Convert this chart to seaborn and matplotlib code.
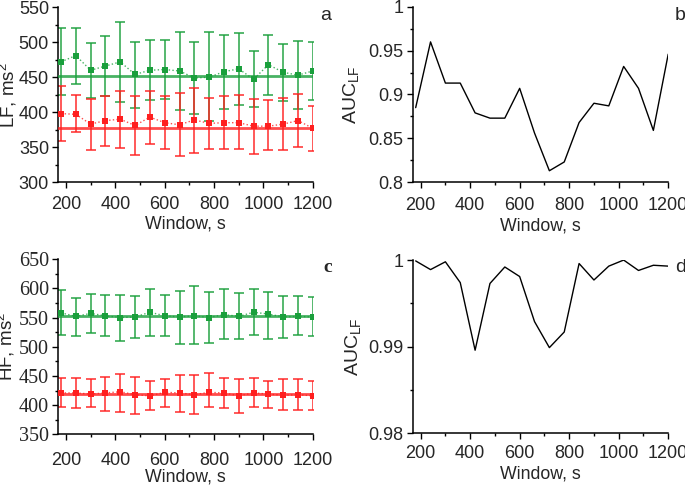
import numpy as np
import matplotlib
matplotlib.use("Agg")
import matplotlib.pyplot as plt
from matplotlib.ticker import MultipleLocator, FormatStrFormatter
import seaborn as sns

# Window length, s
window = [180, 240, 300, 360, 420, 480, 540, 600, 660,
          720, 780, 840, 900, 960, 1020, 1080, 1140, 1200]

# LF power (panel a)
lf_green_mean = [472, 481, 460, 466, 472, 454, 460, 461, 459, 449, 450, 458, 462, 447, 468, 457, 453, 459]
lf_green_hi = [520, 521, 499, 509, 529, 500, 503, 503, 515, 500, 514, 511, 513, 487, 511, 497, 502, 500]
lf_green_lo = [424, 440, 420, 423, 415, 406, 417, 419, 403, 398, 388, 405, 411, 407, 424, 416, 404, 417]
lf_red_mean = [398, 397, 383, 388, 390, 381, 393, 385, 382, 389, 384, 385, 385, 380, 380, 383, 388, 377]
lf_red_hi = [437, 424, 419, 423, 431, 423, 431, 423, 427, 435, 421, 423, 424, 419, 417, 421, 426, 409]
lf_red_lo = [359, 371, 346, 352, 349, 339, 354, 347, 337, 342, 347, 347, 347, 340, 346, 346, 350, 345]
lf_green_level = 452
lf_red_level = 378

# HF power (panel c)
hf_green_mean = [558, 552, 557, 553, 550, 551, 559, 553, 551, 553, 550, 555, 552, 559, 556, 551, 552, 551]
hf_green_hi = [597, 584, 591, 588, 589, 586, 598, 588, 595, 604, 593, 598, 592, 598, 594, 587, 586, 585]
hf_green_lo = [520, 519, 524, 518, 509, 515, 519, 518, 505, 504, 507, 514, 513, 520, 513, 515, 520, 518]
hf_red_mean = [421, 421, 419, 421, 423, 418, 416, 422, 421, 418, 422, 421, 416, 421, 419, 417, 418, 416]
hf_red_hi = [446, 447, 444, 449, 454, 449, 442, 445, 451, 451, 455, 446, 445, 447, 441, 444, 445, 442]
hf_red_lo = [397, 395, 397, 390, 388, 385, 391, 397, 388, 385, 397, 396, 387, 397, 396, 391, 391, 391]
hf_green_level = 552
hf_red_level = 419

# AUC (panels b and d)
auc_b = [0.885, 0.960, 0.913, 0.913, 0.879, 0.873, 0.873, 0.907, 0.856,
         0.813, 0.823, 0.868, 0.890, 0.887, 0.932, 0.907, 0.859, 0.946]
auc_d = [0.9999, 0.9989, 0.9998, 0.9974, 0.9896, 0.9973, 0.9992, 0.9981, 0.9929,
         0.9899, 0.9917, 0.9996, 0.9977, 0.9993, 1.0000, 0.9988, 0.9994, 0.9993]

GREEN = "#1a9f3c"
RED = "#ff1f1f"

sns.set_style("ticks")
plt.rcParams["font.family"] = ["Liberation Sans", "DejaVu Sans"]
plt.rcParams["mathtext.default"] = "regular"
plt.rcParams["font.size"] = 12


def style_axis(ax, ylim, ymaj, ymin, xpad, xlabelpad=2):
    ax.set_xlim(168, 1200)
    ax.set_ylim(*ylim)
    ax.xaxis.set_major_locator(MultipleLocator(200))
    ax.xaxis.set_minor_locator(MultipleLocator(100))
    ax.yaxis.set_major_locator(MultipleLocator(ymaj))
    ax.yaxis.set_minor_locator(MultipleLocator(ymin))
    ax.tick_params(which="major", direction="out", length=4, width=1, labelsize=13, color="black")
    ax.tick_params(which="minor", direction="out", length=2.5, width=1, color="black")
    ax.tick_params(axis="y", pad=2.5)
    ax.tick_params(axis="x", pad=xpad)
    for s in ["left", "bottom"]:
        ax.spines[s].set_linewidth(1.1)
        ax.spines[s].set_color("black")
    sns.despine(ax=ax)
    ax.set_xlabel("Window, s", fontsize=12.8, labelpad=xlabelpad)


def draw_group(ax, mean, lo, hi, level, color):
    mean = np.array(mean)
    yerr = [mean - np.array(lo), np.array(hi) - mean]
    ax.errorbar(window, mean, yerr=yerr, fmt="none", ecolor=color,
                elinewidth=1.3, capsize=3.5, capthick=1.3, alpha=0.8, zorder=2)
    ax.axhline(level, color=color, lw=2, alpha=0.8, zorder=3)
    sns.lineplot(x=window, y=mean, ax=ax, color=color, lw=1, linestyle=":",
                 alpha=0.8, zorder=4)
    sns.scatterplot(x=window, y=mean, ax=ax, color=color, marker="s", s=14,
                    linewidth=0, zorder=5)


fig = plt.figure(figsize=(6.85, 4.87), dpi=100)
ax_a = fig.add_axes([0.0847, 0.626, 0.372, 0.359])
ax_b = fig.add_axes([0.6025, 0.626, 0.373, 0.360])
ax_c = fig.add_axes([0.0847, 0.108, 0.372, 0.360])
ax_d = fig.add_axes([0.6025, 0.110, 0.373, 0.356])

# a
draw_group(ax_a, lf_green_mean, lf_green_lo, lf_green_hi, lf_green_level, GREEN)
draw_group(ax_a, lf_red_mean, lf_red_lo, lf_red_hi, lf_red_level, RED)
style_axis(ax_a, (300, 550), 50, 25, 6)
ax_a.set_ylabel("LF, ms$^2$", fontsize=13.5)
ax_a.yaxis.set_label_coords(-0.155, 0.5)

# b
sns.lineplot(x=window, y=auc_b, ax=ax_b, color="black", lw=1)
style_axis(ax_b, (0.8, 1.0), 0.05, 0.025, 7)
ax_b.yaxis.set_major_formatter(FormatStrFormatter("%g"))
ax_b.set_ylabel("AUC$_{LF}$", fontsize=14)
ax_b.yaxis.set_label_coords(-0.203, 0.5)

# c
draw_group(ax_c, hf_green_mean, hf_green_lo, hf_green_hi, hf_green_level, GREEN)
draw_group(ax_c, hf_red_mean, hf_red_lo, hf_red_hi, hf_red_level, RED)
style_axis(ax_c, (350, 650), 50, 25, 8.5, xlabelpad=0)
for lab in ax_c.get_yticklabels():
    lab.set_fontfamily("Liberation Serif")
    lab.set_fontsize(14.5)
ax_c.set_ylabel("HF, ms$^2$", fontsize=13.5)
ax_c.yaxis.set_label_coords(-0.16, 0.5)

# d
sns.lineplot(x=window, y=auc_d, ax=ax_d, color="black", lw=1)
style_axis(ax_d, (0.98, 1.0), 0.01, 0.005, 4.5)
ax_d.yaxis.set_major_formatter(FormatStrFormatter("%g"))
ax_d.set_ylabel("AUC$_{LF}$", fontsize=14)
ax_d.yaxis.set_label_coords(-0.195, 0.5)

fig.text(0.475, 0.985, "a", fontsize=14, va="top", ha="center")
fig.text(0.993, 0.985, "b", fontsize=14, va="top", ha="center")
fig.text(0.479, 0.468, "c", fontsize=14, va="top", ha="center",
         fontfamily="Liberation Serif", fontweight="bold")
fig.text(0.993, 0.468, "d", fontsize=14, va="top", ha="center")

fig.savefig("out.png", dpi=100)
